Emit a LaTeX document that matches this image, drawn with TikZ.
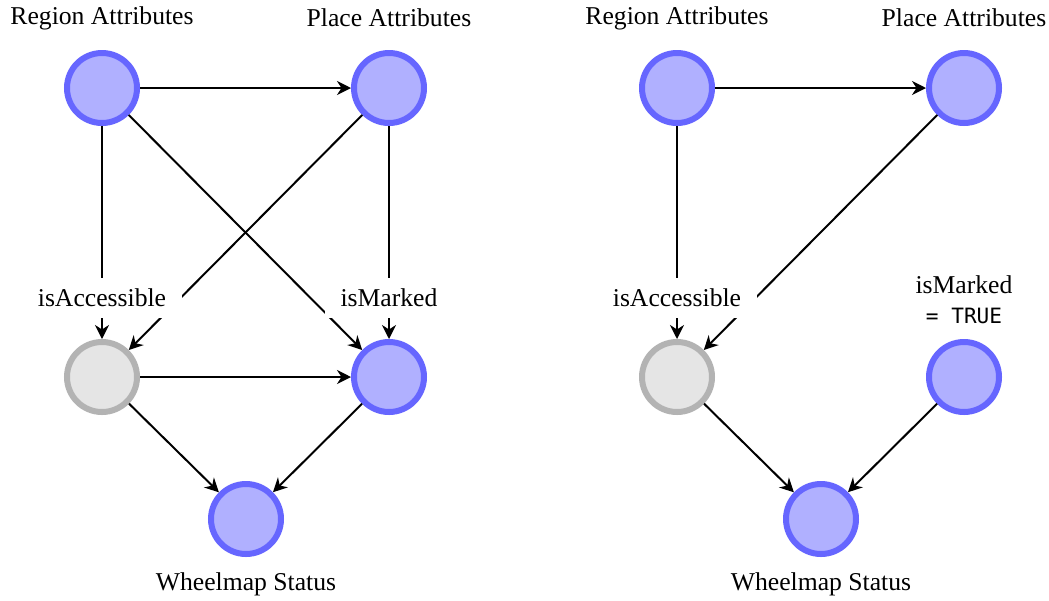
\documentclass[tikz,border=0pt]{standalone}
\usepackage{fontspec}
\setmainfont{Liberation Serif}
\newfontfamily\monofont{DejaVu Sans Mono}
\usetikzlibrary{arrows.meta}

\definecolor{varfill}{RGB}{176,176,255}
\definecolor{varline}{RGB}{102,102,255}
\definecolor{hidfill}{RGB}{229,229,229}
\definecolor{hidline}{RGB}{179,179,179}

\tikzset{
  varnode/.style={circle,minimum size=1.4cm,inner sep=0pt,line width=0.12cm,draw=varline,fill=varfill},
  hidnode/.style={varnode,draw=hidline,fill=hidfill},
  link/.style={line width=0.04cm,-{Stealth[length=0.28cm,width=0.28cm,inset=0.09cm]}},
  caption/.style={font=\fontsize{14.6pt}{17pt}\selectfont,align=center},
  cutlabel/.style={caption,fill=white,inner xsep=0.32cm,inner ysep=6.5pt}
}

\begin{document}
\begin{tikzpicture}
\useasboundingbox [fill=white] (0, 0) rectangle (20.98, -12);

% left graph
\node (ra) at (2.04, -1.76) [varnode] {};
\node (pa) at (7.78, -1.76) [varnode] {};
\node (acc) at (2.04, -7.54) [hidnode] {};
\node (mrk) at (7.78, -7.54) [varnode] {};
\node (ws) at (4.92, -10.38) [varnode] {};
\node (ra-lbl) at (2.04, -0.36) [caption] {Region Attributes};
\node (pa-lbl) at (7.78, -0.36) [caption] {Place Attributes};
\node (ws-lbl) at (4.92, -11.68) [caption] {Wheelmap Status};

\draw [link] (ra) -- (pa);
\draw [link] (ra) -- (acc);
\draw [link] (pa) -- (acc);
\draw [link] (ra) -- (mrk);
\draw [link] (pa) -- (mrk);
\draw [link] (acc) -- (mrk);
\draw [link] (acc) -- (ws);
\draw [link] (mrk) -- (ws);

\node (acc-lbl) at (2.04, -5.96) [cutlabel] {isAccessible};
\node (mrk-lbl) at (7.78, -5.96) [cutlabel] {isMarked};

% right graph, isMarked fixed
\node (ra2) at (13.54, -1.76) [varnode] {};
\node (pa2) at (19.28, -1.76) [varnode] {};
\node (acc2) at (13.54, -7.54) [hidnode] {};
\node (mrk2) at (19.28, -7.54) [varnode] {};
\node (ws2) at (16.42, -10.38) [varnode] {};
\node (ra2-lbl) at (13.54, -0.36) [caption] {Region Attributes};
\node (pa2-lbl) at (19.28, -0.36) [caption] {Place Attributes};
\node (ws2-lbl) at (16.42, -11.68) [caption] {Wheelmap Status};

\draw [link] (ra2) -- (pa2);
\draw [link] (ra2) -- (acc2);
\draw [link] (pa2) -- (acc2);
\draw [link] (acc2) -- (ws2);
\draw [link] (mrk2) -- (ws2);

\node (acc2-lbl) at (13.54, -5.96) [cutlabel] {isAccessible};
\node (mrk2-lbl) at (19.28, -6.0) [caption] {isMarked\\{\monofont\fontsize{12pt}{17pt}\selectfont = TRUE}};
\end{tikzpicture}
\end{document}
